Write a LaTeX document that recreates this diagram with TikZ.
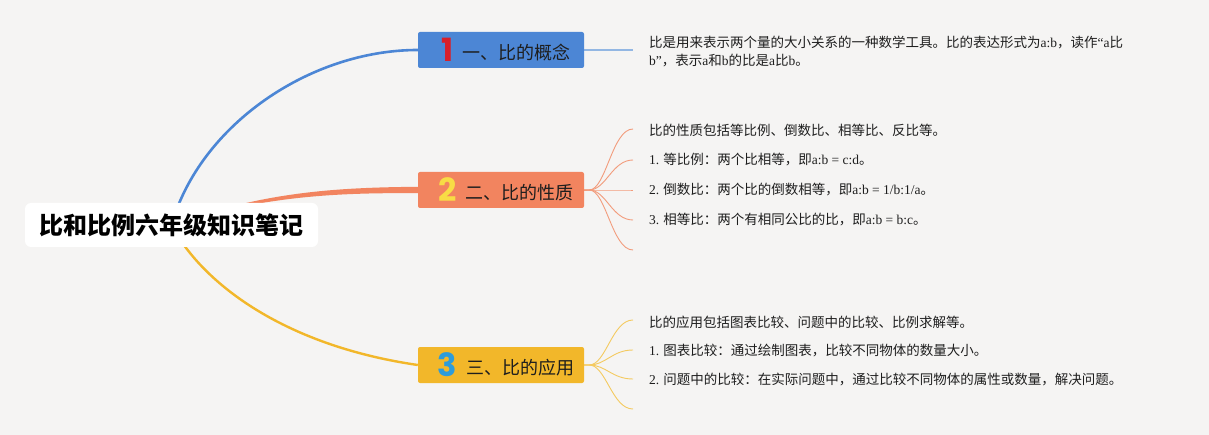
\documentclass[tikz,border=0pt]{standalone}
\usepackage{fontspec}
\setmainfont{Liberation Serif}
\newfontfamily\cjk{Noto Sans CJK SC}
\newfontfamily\digitfont{Poppins}
\usetikzlibrary{calc}
\definecolor{bgc}{HTML}{F5F4F3}
\definecolor{blueC}{HTML}{4C86D5}
\definecolor{orangeC}{HTML}{F2845F}
\definecolor{yellowC}{HTML}{F2B72A}
\definecolor{digRed}{HTML}{D81F2A}
\definecolor{digYellow}{HTML}{F8DC45}
\definecolor{digBlue}{HTML}{2D9CDB}
\definecolor{blueL}{HTML}{93B7E3}
\definecolor{orangeL}{HTML}{F29C7C}
\definecolor{yellowL}{HTML}{F4CA60}
\definecolor{txt}{HTML}{1E1E1E}
\newcommand\lat[1]{{\rmfamily #1}}
\pgfdeclarelayer{bg}
\pgfsetlayers{bg,main}
\tikzset{
  rootbox/.style={fill=white, rounded corners=6pt, minimum width=293pt, minimum height=44pt, inner sep=0pt,
    font=\cjk\bfseries\fontsize{24}{28}\selectfont, text=black},
  topicbox/.style={rounded corners=2pt, minimum width=166pt, minimum height=36pt, inner sep=0pt,
    font=\cjk\fontsize{18}{20}\selectfont, text=txt},
  leaf/.style={anchor=west, inner sep=0pt, text=txt, font=\cjk\fontsize{13.5}{18}\selectfont, align=left},
  fan/.style={line width=0.9pt},
}
\newcommand\dig[2]{\hspace*{10pt}{\digitfont\bfseries\fontsize{32}{32}\selectfont\color{#1}#2}\hspace{9pt}}
\begin{document}
\begin{tikzpicture}[x=1pt,y=-1pt]
\useasboundingbox (0,0) rectangle (1209,435);
% root
\node[rootbox] (root) at (171.5,225) {比和比例六年级知识笔记};
% topics
\node[topicbox, fill=blueC] (n1) at (501,50) {\dig{digRed}{1}\raisebox{2pt}{一、比的概念}};
\node[topicbox, fill=orangeC] (n2) at (501,190) {\dig{digYellow}{2}\raisebox{2pt}{二、比的性质}};
\node[topicbox, fill=yellowC] (n3) at (501,365) {\dig{digBlue}{3}\raisebox{2pt}{三、比的应用}};
% leaves topic 1
\coordinate (e1) at (633,50);
\node[leaf] (t1) at (649,51) {比是用来表示两个量的大小关系的一种数学工具。比的表达形式为\lat{a:b}，读作\lat{“a}比\\\lat{b”}，表示\lat{a}和\lat{b}的比是\lat{a}比\lat{b}。};
% leaves topic 2
\coordinate (e21) at (633,129);
\coordinate (e22) at (633,160);
\coordinate (e23) at (633,190);
\coordinate (e24) at (633,220);
\coordinate (e25) at (633,250);
\node[leaf] (t21) at (649,130) {比的性质包括等比例、倒数比、相等比、反比等。};
\node[leaf] (t22) at (649,160) {\lat{1.} 等比例：两个比相等，即\lat{a:b = c:d}。};
\node[leaf] (t23) at (649,190) {\lat{2.} 倒数比：两个比的倒数相等，即\lat{a:b = 1/b:1/a}。};
\node[leaf] (t24) at (649,220) {\lat{3.} 相等比：两个有相同公比的比，即\lat{a:b = b:c}。};
% leaves topic 3
\coordinate (e31) at (633,320);
\coordinate (e32) at (633,350);
\coordinate (e33) at (633,379);
\coordinate (e34) at (633,409);
\node[leaf] (t31) at (649,322) {比的应用包括图表比较、问题中的比较、比例求解等。};
\node[leaf] (t32) at (649,351) {\lat{1.} 图表比较：通过绘制图表，比较不同物体的数量大小。};
\node[leaf] (t33) at (649,380) {\lat{2.} 问题中的比较：在实际问题中，通过比较不同物体的属性或数量，解决问题。};
\begin{pgfonlayer}{bg}
\fill[bgc] (0,0) rectangle (1209,435);
% main branches
\draw[blueC, line width=2.6pt] (root.center) .. controls (200,125) and (310,50) .. (n1.west);
\draw[yellowC, line width=2.4pt] (root.center) .. controls (200,280) and (280,345) .. (n3.west);
\fill[orangeC] (root.center) .. controls (260,193) and (330,187.5) .. ($(n2.west)+(0,-3.2)$)
  -- ($(n2.west)+(0,3.2)$) .. controls (330,192.5) and (260,197) .. (root.center) -- cycle;
% topic 1 link
\draw[blueL, line width=1.5pt] (n1.east) -- (e1);
% fans topic 2
\foreach \e in {e21,e22,e23,e24,e25}
  \draw[orangeL, fan] (n2.east) -- ++(5,0) .. controls (606,190) and (612,0|-\e) .. (\e);
% fans topic 3
\foreach \e in {e31,e32,e33,e34}
  \draw[yellowL, fan] (n3.east) -- ++(5,0) .. controls (606,365) and (612,0|-\e) .. (\e);
\end{pgfonlayer}
\end{tikzpicture}
\end{document}
